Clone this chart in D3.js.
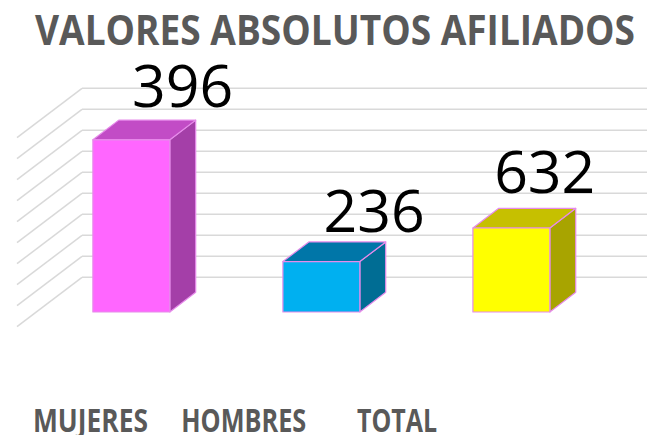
<!DOCTYPE html>
<html><head><meta charset="utf-8">
<script src="https://cdn.jsdelivr.net/npm/d3@7"></script>
<style>html,body{margin:0;padding:0;background:#fff;}svg{display:block;}</style>
</head><body>
<script>
// ---- data ----
const categories = ["MUJERES", "HOMBRES", "TOTAL"];
const barValues = [410, 120, 200];          // bar heights (axis units)
const valueLabels = ["396", "236", "632"];  // text shown above the bars
const tickValues = [0, 50, 100, 150, 200, 250, 300, 350, 400, 450];
const frontColors = ["#FF66FF", "#00B0F0", "#FFFF00"];
const topColors = ["#C24CC6", "#0076A8", "#C6C000"];
const sideColors = ["#A43FA8", "#006D94", "#A8A400"];
const titleText = "VALORES ABSOLUTOS AFILIADOS";

// ---- layout ----
const W = 647, H = 435;
const DX = 65, DY = 49.4;          // full floor depth offset
const Z0 = 0.298, Z1 = 0.696;      // bar depth span
const svg = d3.select("body").append("svg").attr("width", W).attr("height", H);

const y = d3.scaleLinear().domain([0, 450]).range([326.7, 137.7]);
const x = d3.scaleBand().domain(categories).range([35.5, 568.5]).paddingInner(0.595).paddingOuter(0.2);
const xLab = d3.scalePoint().domain(categories).range([90.5, 397]);
const wallLeft = 17;

const P = (px, v, z) => [px + DX * z, y(v) - DY * z];

// gridlines: back wall and left wall
const grid = svg.append("g").attr("stroke", "#D9D9D9").attr("stroke-width", 1.5).attr("fill", "none");
tickValues.forEach(t => {
  const b = P(wallLeft, t, 1), f = P(wallLeft, t, 0);
  grid.append("line").attr("x1", b[0]).attr("y1", b[1]).attr("x2", W + 5).attr("y2", b[1]);
  grid.append("line").attr("x1", f[0]).attr("y1", f[1]).attr("x2", b[0]).attr("y2", b[1]);
});

// bars
const line = pts => "M" + pts.map(p => p.join(",")).join("L") + "Z";
categories.forEach((c, i) => {
  const v = barValues[i], x0 = x(c), x1 = x(c) + x.bandwidth();
  const g = svg.append("g").attr("stroke", "#E68BEA").attr("stroke-width", 1.2).attr("stroke-linejoin", "round");
  g.append("path").attr("fill", sideColors[i])
    .attr("d", line([P(x1, 0, Z0), P(x1, 0, Z1), P(x1, v, Z1), P(x1, v, Z0)]));
  g.append("path").attr("fill", topColors[i])
    .attr("d", line([P(x0, v, Z0), P(x1, v, Z0), P(x1, v, Z1), P(x0, v, Z1)]));
  g.append("path").attr("fill", frontColors[i])
    .attr("d", line([P(x0, 0, Z0), P(x1, 0, Z0), P(x1, v, Z0), P(x0, v, Z0)]));
});

// value labels (manually placed text boxes in original)
const labelDx = [-13, -11.5, -31], labelDy = [-33, -30, -35];
categories.forEach((c, i) => {
  const v = barValues[i];
  const tr = P(x(c) + x.bandwidth(), v, Z1);
  const fr = P(x(c), v, Z0);
  svg.append("text").attr("x", tr[0] + labelDx[i]).attr("y", fr[1] + labelDy[i])
    .attr("text-anchor", "middle").attr("font-family", "'Open Sans', sans-serif")
    .attr("font-size", 59).attr("fill", "#000").text(valueLabels[i]);
});

// title
svg.append("text").attr("x", 35).attr("y", 45)
  .attr("font-family", "'Open Sans', sans-serif").attr("font-weight", "bold")
  .attr("font-size", 42).attr("fill", "#595959")
  .attr("textLength", 600).attr("lengthAdjust", "spacingAndGlyphs").text(titleText);

// category labels
const labW = {"MUJERES": 115, "HOMBRES": 125, "TOTAL": 80};
categories.forEach(c => {
  svg.append("text").attr("x", xLab(c) - labW[c] / 2).attr("y", 431.7)
    .attr("font-family", "'Open Sans', sans-serif").attr("font-weight", "bold")
    .attr("font-size", 33).attr("fill", "#595959")
    .attr("textLength", labW[c]).attr("lengthAdjust", "spacingAndGlyphs").text(c);
});
</script>
</body></html>
